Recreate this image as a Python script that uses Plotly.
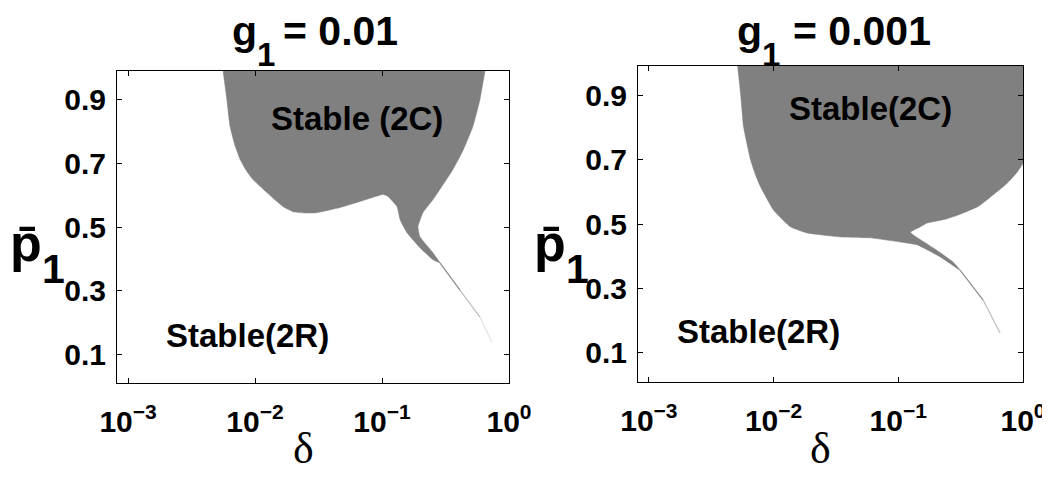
import numpy as np
import plotly.graph_objects as go

# ---------------- data ----------------
# Panel A: g1 = 0.01 -- boundary of the Stable (2C) region (delta, p1bar)
a_delta = [0.00560, 0.00600, 0.00635, 0.00690, 0.00762, 0.00860, 0.00964, 0.0124,
           0.0166, 0.0199, 0.0250, 0.0308, 0.0467, 0.0671, 0.1019, 0.1114, 0.1312,
           0.1387, 0.1574, 0.199, 0.252, 0.286, 0.252, 0.199, 0.192, 0.210, 0.252,
           0.362, 0.440, 0.521, 0.590, 0.647]
a_p = [0.99, 0.900, 0.817, 0.760, 0.713, 0.675, 0.649, 0.608,
       0.564, 0.548, 0.544, 0.545, 0.561, 0.580, 0.602, 0.596, 0.564,
       0.523, 0.482, 0.435, 0.397, 0.387, 0.419, 0.469, 0.501, 0.545, 0.586,
       0.681, 0.745, 0.817, 0.900, 0.99]
a_tail_delta = [0.286, 0.411, 0.59, 0.734]
a_tail_p = [0.387, 0.302, 0.217, 0.138]

# Panel B: g1 = 0.001
b_delta = [0.00515, 0.00545, 0.00575, 0.00655, 0.00720, 0.00787, 0.0100, 0.0137,
           0.0187, 0.0344, 0.0597, 0.1038, 0.142, 0.217, 0.313, 0.275, 0.1905,
           0.132, 0.125, 0.150, 0.1706, 0.240, 0.313, 0.440, 0.575, 0.740, 0.895,
           1.0, 1.0]
b_p = [0.99, 0.900, 0.801, 0.698, 0.650, 0.615, 0.543, 0.491,
       0.472, 0.460, 0.457, 0.444, 0.435, 0.398, 0.357, 0.382, 0.426,
       0.466, 0.475, 0.491, 0.503, 0.515, 0.530, 0.555, 0.590, 0.625, 0.660,
       0.689, 0.99]
b_tail_delta = [0.313, 0.479, 0.655]
b_tail_p = [0.357, 0.264, 0.162]

title_values = ["= 0.01", "= 0.001"]
label_2c = ["Stable (2C)", "Stable(2C)"]
label_2c_pos = [(0.0635, 0.842), (0.0597, 0.857)]
label_2r = ["Stable(2R)", "Stable(2R)"]
label_2r_pos = [(0.00865, 0.16), (0.00752, 0.168)]

x_tickvals = [1e-3, 1e-2, 1e-1, 1]
x_ticktext = ["10<sup>−3</sup>", "10<sup>−2</sup>", "10<sup>−1</sup>", "10<sup>0</sup>"]
y_tickvals = [0.1, 0.3, 0.5, 0.7, 0.9]
y_ticktext = ["0.1", "0.3", "0.5", "0.7", "0.9"]

GRAY = "#808080"
TAIL_COLORS = ["#8c8c8c", "#bdbdbd", "#e2e2e2"]
FONT = "Liberation Sans"

# the page body has an 8px margin: the figure is sized so that it fills the
# 1050x480 window exactly, and all positions are given in window pixels
OFF = 8
W, H = 1050 - OFF, 480 - OFF


def px(x):
    return (x - OFF) / W


def py(y):
    return 1 - (y - OFF) / H


fig = go.Figure()

panels = [
    (a_delta, a_p, a_tail_delta, a_tail_p, "x", "y"),
    (b_delta, b_p, b_tail_delta, b_tail_p, "x2", "y2"),
]
for dx, pv, tdx, tpy, xa, ya in panels:
    fig.add_trace(go.Scatter(x=dx, y=pv, mode="lines", fill="toself",
                             fillcolor=GRAY, line=dict(width=0.5, color=GRAY, shape="spline",
                                                       smoothing=0.4),
                             hoverinfo="skip", xaxis=xa, yaxis=ya))
    for i in range(len(tdx) - 1):
        fig.add_trace(go.Scatter(x=tdx[i:i + 2], y=tpy[i:i + 2], mode="lines",
                                 line=dict(width=1.2, color=TAIL_COLORS[i]),
                                 hoverinfo="skip", xaxis=xa, yaxis=ya))

# plot-area window-pixel boxes (left, right, top, bottom)
boxes = [(117, 509, 71, 383), (638, 1023, 66, 382)]


def axis_common(size):
    return dict(showline=True, linecolor="black", linewidth=1, mirror="allticks",
                ticks="inside", ticklen=5, tickcolor="black", tickwidth=1,
                showgrid=False, zeroline=False, automargin=False,
                tickfont=dict(family=FONT, size=size, color="black", weight="bold"))


for k, (l, r, t, b) in enumerate(boxes):
    sx = "" if k == 0 else "2"
    xa = axis_common(30)
    xa.update(type="log", range=[-3.087, 0], domain=[px(l), px(r)],
              tickvals=x_tickvals, ticktext=x_ticktext, anchor="y" + sx,
              ticklabelstandoff=12)
    ya = axis_common(30)
    ya.update(range=[0.01, 0.99], domain=[py(b), py(t)],
              tickvals=y_tickvals, ticktext=y_ticktext, anchor="x" + sx,
              ticklabelstandoff=4)
    fig.update_layout(**{"xaxis" + sx: xa, "yaxis" + sx: ya})


def paper_text(text, x, y, size, xanchor="left", yanchor="middle", family=FONT,
               weight="bold", borderpad=1):
    return dict(text=text, x=px(x), y=py(y), xref="paper", yref="paper",
                xanchor=xanchor, yanchor=yanchor, showarrow=False, borderpad=borderpad,
                font=dict(family=family, size=size, color="black", weight=weight))


annotations = []
title_x = [(230, 255, 281), (735, 760, 791)]
ylab_x = [(9, 41), (533, 565)]
delta_x = [303, 820]
for k, (l, r, t, b) in enumerate(boxes):
    sx = "" if k == 0 else "2"
    gx, sx1, vx = title_x[k]
    annotations.append(paper_text("g", gx, 31, 41))
    annotations.append(paper_text("1", sx1, 55, 33))
    annotations.append(paper_text(title_values[k], vx, 31, 41))
    annotations.append(dict(text=label_2c[k], x=np.log10(label_2c_pos[k][0]), y=label_2c_pos[k][1],
                            xref="x" + sx, yref="y" + sx, xanchor="center", yanchor="middle",
                            showarrow=False,
                            font=dict(family=FONT, size=33, color="black", weight="bold")))
    annotations.append(dict(text=label_2r[k], x=np.log10(label_2r_pos[k][0]), y=label_2r_pos[k][1],
                            xref="x" + sx, yref="y" + sx, xanchor="center", yanchor="middle",
                            showarrow=False,
                            font=dict(family=FONT, size=33, color="black", weight="bold")))
    # x-axis label
    annotations.append(paper_text("δ", delta_x[k], 475, 44, xanchor="center", yanchor="bottom",
                                  family="Liberation Serif", weight="normal"))
    # y-axis label
    p0x, p1x = ylab_x[k]
    annotations.append(paper_text("p̄", p0x, 243, 52, borderpad=0))
    annotations.append(paper_text("1", p1x, 269, 41, borderpad=0))

fig.update_layout(width=W, height=H, margin=dict(l=0, r=0, t=0, b=0),
                  paper_bgcolor="white", plot_bgcolor="white", showlegend=False,
                  annotations=annotations)

fig.write_html("out.html")
